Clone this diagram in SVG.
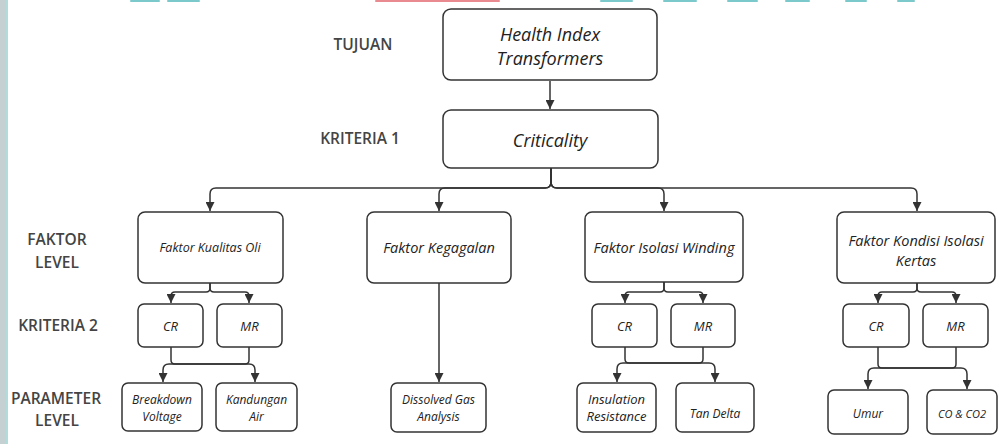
<svg xmlns="http://www.w3.org/2000/svg" width="1000" height="444" viewBox="0 0 1000 444">
<style>
.box{fill:#fff;stroke:#333;stroke-width:1.5}
.c{fill:none;stroke:#333;stroke-width:1.5}
.lbl{font-family:"Open Sans","Noto Sans",sans-serif;font-size:15.5px;font-weight:600;fill:#444;text-anchor:middle;dominant-baseline:central}
.t{font-family:"Open Sans","Noto Sans",sans-serif;font-style:italic;fill:#222;text-anchor:middle;dominant-baseline:central}
.big{font-size:18px}
.mid{font-size:14.5px}
.crm{font-size:13px}
.sm{font-size:12px}
</style>
<defs>
<marker id="ah" markerUnits="userSpaceOnUse" markerWidth="10" markerHeight="9" refX="9" refY="4.5" orient="auto">
<path d="M0 0 L9 4.5 L0 9 Z" fill="#333"/>
</marker>
</defs>
<rect x="0" y="0" width="1000" height="444" fill="#fff"/>
<g id="decor">
<rect x="0" y="0" width="6" height="444" fill="#c5d0d2"/>
<rect x="6" y="0" width="2" height="444" fill="#b2dcdc"/>
<rect x="130" y="0" width="30" height="2" rx="1" fill="#7cc9cc"/>
<rect x="167" y="0" width="33" height="2" rx="1" fill="#7cc9cc"/>
<rect x="375" y="0" width="125" height="2" rx="1" fill="#e88a90"/>
<rect x="600" y="0" width="33" height="2" rx="1" fill="#7cc9cc"/>
<rect x="663" y="0" width="34" height="2" rx="1" fill="#7cc9cc"/>
<rect x="727" y="0" width="31" height="2" rx="1" fill="#7cc9cc"/>
<rect x="785" y="0" width="25" height="2" rx="1" fill="#7cc9cc"/>
<rect x="845" y="0" width="22" height="2" rx="1" fill="#7cc9cc"/>
<rect x="897" y="0" width="18" height="2" rx="1" fill="#7cc9cc"/>
</g>
<g id="labels">
<text class="lbl" x="363" y="44">TUJUAN</text>
<text class="lbl" x="360" y="138">KRITERIA 1</text>
<text class="lbl" x="57" y="239">FAKTOR</text>
<text class="lbl" x="57" y="262">LEVEL</text>
<text class="lbl" x="58" y="325">KRITERIA 2</text>
<text class="lbl" x="56" y="398">PARAMETER</text>
<text class="lbl" x="57" y="420">LEVEL</text>
</g>
<g id="connectors">
<path class="c" d="M550 81 V109" marker-end="url(#ah)"/>
<path class="c" d="M551 168 V182 Q551 188 545 188 H216 Q210 188 210 194 V211" marker-end="url(#ah)"/>
<path class="c" d="M551 168 V182 Q551 188 545 188 H445 Q439 188 439 194 V211" marker-end="url(#ah)"/>
<path class="c" d="M551 168 V182 Q551 188 557 188 H658 Q664 188 664 194 V211" marker-end="url(#ah)"/>
<path class="c" d="M551 168 V182 Q551 188 557 188 H911 Q917 188 917 194 V211" marker-end="url(#ah)"/>
<path class="c" d="M210 283 V288 Q210 292 206 292 H175 Q171 292 171 296 V303" marker-end="url(#ah)"/>
<path class="c" d="M210 283 V288 Q210 292 214 292 H245 Q249 292 249 296 V303" marker-end="url(#ah)"/>
<path class="c" d="M171 347 V360 Q171 364 175 364 H245 Q249 364 249 360 V347"/>
<path class="c" d="M210 364 H169 Q163 364 163 370 V382" marker-end="url(#ah)"/>
<path class="c" d="M210 364 H249 Q255 364 255 370 V382" marker-end="url(#ah)"/>
<path class="c" d="M439 283 V382" marker-end="url(#ah)"/>
<path class="c" d="M664 282 V288 Q664 292 660 292 H629 Q625 292 625 296 V303" marker-end="url(#ah)"/>
<path class="c" d="M664 282 V288 Q664 292 668 292 H699 Q703 292 703 296 V303" marker-end="url(#ah)"/>
<path class="c" d="M625 347 V359 Q625 363 629 363 H699 Q703 363 703 359 V347"/>
<path class="c" d="M664 363 H623 Q617 363 617 369 V382" marker-end="url(#ah)"/>
<path class="c" d="M664 363 H709 Q715 363 715 369 V382" marker-end="url(#ah)"/>
<path class="c" d="M917 283 V288 Q917 292 913 292 H882 Q878 292 878 296 V303" marker-end="url(#ah)"/>
<path class="c" d="M917 283 V288 Q917 292 921 292 H952 Q956 292 956 296 V303" marker-end="url(#ah)"/>
<path class="c" d="M878 347 V364 Q878 368 882 368 H952 Q956 368 956 364 V347"/>
<path class="c" d="M917 368 H874 Q868 368 868 374 V389" marker-end="url(#ah)"/>
<path class="c" d="M917 368 H961 Q967 368 967 374 V389" marker-end="url(#ah)"/>
</g>
<g id="n-health"><rect class="box" x="443" y="9" width="214" height="71" rx="8"/><text class="t big" x="550" y="34">Health Index</text><text class="t big" x="550" y="58">Transformers</text></g>
<g id="n-criticality"><rect class="box" x="443" y="110" width="215" height="58" rx="8"/><text class="t big" x="550" y="140">Criticality</text></g>
<g id="n-oli"><rect class="box" x="138" y="212" width="145" height="71" rx="7"/><text class="t" font-size="12.5" x="210" y="247">Faktor Kualitas Oli</text></g>
<g id="n-kegagalan"><rect class="box" x="367" y="212" width="144" height="71" rx="7"/><text class="t mid" x="439" y="247">Faktor Kegagalan</text></g>
<g id="n-winding"><rect class="box" x="585" y="212" width="158" height="70" rx="7"/><text class="t mid" x="664" y="247">Faktor Isolasi Winding</text></g>
<g id="n-kertas"><rect class="box" x="837" y="212" width="158" height="71" rx="7"/><text class="t mid" x="916" y="240">Faktor Kondisi Isolasi</text><text class="t mid" x="916" y="260">Kertas</text></g>
<g id="n-cr1"><rect class="box" x="138" y="304" width="65" height="43" rx="6"/><text class="t crm" x="170.5" y="326">CR</text></g>
<g id="n-mr1"><rect class="box" x="217" y="304" width="65" height="43" rx="6"/><text class="t crm" x="249.5" y="326">MR</text></g>
<g id="n-cr2"><rect class="box" x="592" y="304" width="65" height="43" rx="6"/><text class="t crm" x="624.5" y="326">CR</text></g>
<g id="n-mr2"><rect class="box" x="671" y="304" width="64" height="43" rx="6"/><text class="t crm" x="703" y="326">MR</text></g>
<g id="n-cr3"><rect class="box" x="843" y="304" width="66" height="43" rx="6"/><text class="t crm" x="876" y="326">CR</text></g>
<g id="n-mr3"><rect class="box" x="923" y="304" width="65" height="43" rx="6"/><text class="t crm" x="955.5" y="326">MR</text></g>
<g id="n-breakdown"><rect class="box" x="122" y="383" width="80" height="48" rx="6"/><text class="t sm" x="162" y="399">Breakdown</text><text class="t sm" x="162" y="416">Voltage</text></g>
<g id="n-kandungan"><rect class="box" x="216" y="383" width="81" height="48" rx="6"/><text class="t sm" x="256.5" y="399">Kandungan</text><text class="t sm" x="256.5" y="416">Air</text></g>
<g id="n-dga"><rect class="box" x="391" y="383" width="95" height="49" rx="6"/><text class="t sm" x="438.5" y="399">Dissolved Gas</text><text class="t sm" x="438.5" y="416">Analysis</text></g>
<g id="n-insulation"><rect class="box" x="577" y="383" width="79" height="49" rx="6"/><text class="t" font-size="13" x="616.5" y="399">Insulation</text><text class="t" font-size="13" x="616.5" y="416">Resistance</text></g>
<g id="n-tandelta"><rect class="box" x="676" y="383" width="78" height="49" rx="6"/><text class="t sm" x="715" y="413">Tan Delta</text></g>
<g id="n-umur"><rect class="box" x="828" y="390" width="80" height="44" rx="6"/><text class="t sm" x="868" y="413">Umur</text></g>
<g id="n-co"><rect class="box" x="927" y="390" width="70" height="44" rx="6"/><text class="t" font-size="11" x="962" y="413">CO &amp; CO2</text></g>
</svg>
